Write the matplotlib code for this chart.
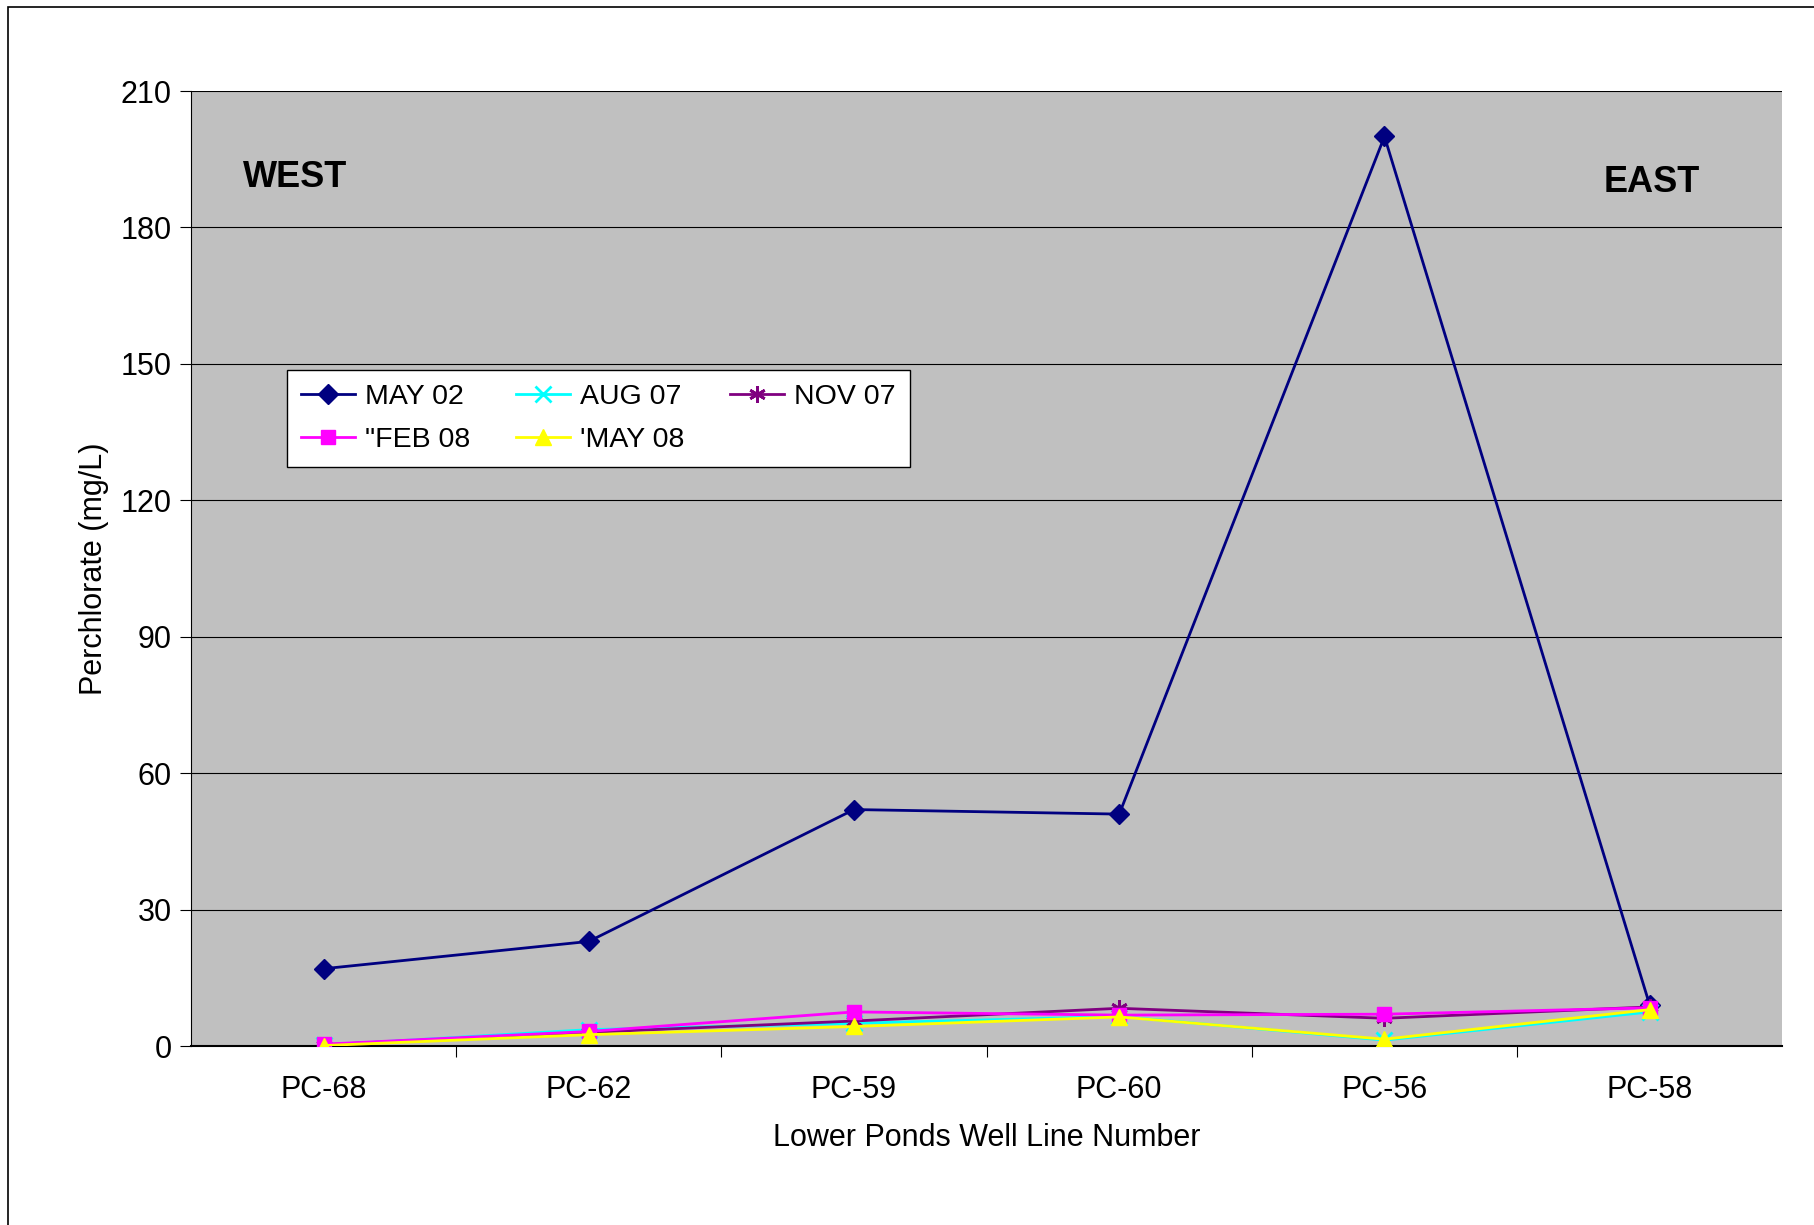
import matplotlib.pyplot as plt
from matplotlib.patches import Rectangle

plt.rcParams['font.family'] = ['Liberation Sans', 'DejaVu Sans']

# data
wells = ["PC-68", "PC-62", "PC-59", "PC-60", "PC-56", "PC-58"]
may02 = [17, 23, 52, 51, 200, 9]
aug07 = [0.2, 3.6, 5.0, 6.5, 1.3, 7.5]
nov07 = [0.3, 3.0, 5.5, 8.3, 6.1, 8.6]
feb08 = [0.4, 3.2, 7.5, 6.8, 7.0, 8.4]
may08 = [0.1, 2.5, 4.3, 6.4, 1.5, 8.0]

series = [
    ("MAY 02", may02, "#000080", "D", 10),
    ("AUG 07", aug07, "#00FFFF", "x", 12),
    ("NOV 07", nov07, "#800080", (6, 2, 0), 12),
    ('"FEB 08', feb08, "#FF00FF", "s", 10),
    ("'MAY 08", may08, "#FFFF00", "^", 11),
]

fig = plt.figure(figsize=(18.15, 12.25), dpi=100)
ax = fig.add_axes([0.1052, 0.1461, 0.8768, 0.7796])
ax.set_facecolor("#C0C0C0")

x = list(range(len(wells)))
handles = []
for name, vals, col, mk, ms in series:
    h, = ax.plot(x, vals, color=col, marker=mk, markersize=ms, lw=2,
                 markeredgecolor=col, markeredgewidth=2 if mk in ("x", (6, 2, 0)) else 1,
                 label=name, zorder=3)
    handles.append(h)

ax.set_xlim(-0.5, len(wells) - 0.5)
ax.set_ylim(0, 210)
ax.set_yticks(range(0, 211, 30))
ax.yaxis.grid(True, color="black", lw=0.8)
ax.set_axisbelow(True)

ax.set_xticks([i + 0.5 for i in range(len(wells) - 1)])
ax.set_xticklabels([])
ax.set_xticks(x, minor=True)
ax.set_xticklabels(wells, minor=True)
ax.tick_params(axis="x", which="minor", length=0, pad=21, labelsize=22)
ax.tick_params(axis="x", which="major", length=8, direction="out")
ax.tick_params(axis="y", length=8, labelsize=22, pad=6)

for s in ["top", "right"]:
    ax.spines[s].set_visible(False)
ax.spines["left"].set_color("black")
ax.spines["bottom"].set_color("black")
ax.spines["bottom"].set_linewidth(1.5)

ax.set_xlabel("Lower Ponds Well Line Number", fontsize=22, labelpad=13)
ax.set_ylabel("Perchlorate (mg/L)", fontsize=22, labelpad=8)

ax.text(0.033, 0.90, "WEST", transform=ax.transAxes, fontsize=26, fontweight="bold")
ax.text(0.888, 0.894, "EAST", transform=ax.transAxes, fontsize=26, fontweight="bold")

order = [0, 3, 1, 4, 2]
leg = ax.legend([handles[i] for i in order], [handles[i].get_label() for i in order],
                ncol=3, loc="upper left", bbox_to_anchor=(0.0603, 0.708), borderaxespad=0,
                fontsize=20.5, frameon=True, fancybox=False, edgecolor="black",
                facecolor="white", framealpha=1,
                handlelength=1.9, columnspacing=1.6, borderpad=0.5, handletextpad=0.35,
                labelspacing=0.6)
leg.get_frame().set_linewidth(1)

fig.patches.append(Rectangle((8 / 1815, -0.1), 1.2, 1 - 7 / 1225 + 0.1,
                             transform=fig.transFigure, fill=False,
                             edgecolor="black", lw=1.2))

fig.savefig("out.png", dpi=100)
